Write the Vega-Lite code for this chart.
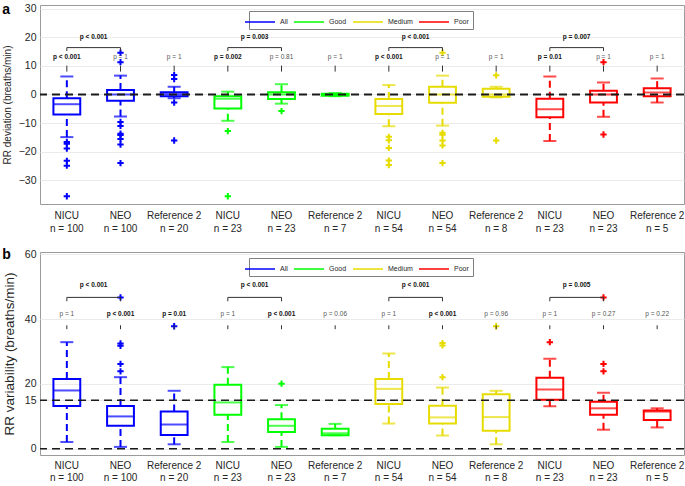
{
"$schema": "https://vega.github.io/schema/vega-lite/v6.json",
"padding": {"left": 1, "top": 2, "right": 0, "bottom": 0},
"spacing": 13,
"background": "white",
"datasets": {
"boxA": [
{"cat":"All|NICU|n = 100","grp":"All","lo":-14.9,"q1":-7.0,"med":-3.4,"q3":-1.3,"hi":6.3},
{"cat":"All|NEO|n = 100","grp":"All","lo":-7.7,"q1":-2.2,"med":0.0,"q3":1.6,"hi":6.6},
{"cat":"All|Reference 2|n = 20","grp":"All","lo":-1.3,"q1":-0.6,"med":0.1,"q3":0.8,"hi":2.7},
{"cat":"Good|NICU|n = 23","grp":"Good","lo":-9.2,"q1":-4.9,"med":-1.5,"q3":-0.6,"hi":1.0},
{"cat":"Good|NEO|n = 23","grp":"Good","lo":-3.2,"q1":-1.6,"med":0.0,"q3":0.8,"hi":3.6},
{"cat":"Good|Reference 2|n = 7","grp":"Good","lo":-0.6,"q1":-0.4,"med":0.0,"q3":0.3,"hi":0.5},
{"cat":"Medium|NICU|n = 54","grp":"Medium","lo":-11.1,"q1":-6.8,"med":-4.0,"q3":-1.6,"hi":3.3},
{"cat":"Medium|NEO|n = 54","grp":"Medium","lo":-10.9,"q1":-2.9,"med":0.0,"q3":2.7,"hi":6.6},
{"cat":"Medium|Reference 2|n = 8","grp":"Medium","lo":-1.0,"q1":-0.8,"med":0.0,"q3":2.0,"hi":2.7},
{"cat":"Poor|NICU|n = 23","grp":"Poor","lo":-16.3,"q1":-8.0,"med":-5.2,"q3":-1.5,"hi":6.3},
{"cat":"Poor|NEO|n = 23","grp":"Poor","lo":-7.8,"q1":-2.8,"med":0.0,"q3":1.3,"hi":4.2},
{"cat":"Poor|Reference 2|n = 5","grp":"Poor","lo":-2.8,"q1":-0.6,"med":0.7,"q3":2.2,"hi":5.6}
],
"outA": [
{"cat":"All|NICU|n = 100","grp":"All","v":-16.6},
{"cat":"All|NICU|n = 100","grp":"All","v":-17.2},
{"cat":"All|NICU|n = 100","grp":"All","v":-18.9},
{"cat":"All|NICU|n = 100","grp":"All","v":-23.2},
{"cat":"All|NICU|n = 100","grp":"All","v":-24.9},
{"cat":"All|NICU|n = 100","grp":"All","v":-35.6},
{"cat":"All|NEO|n = 100","grp":"All","v":11.3},
{"cat":"All|NEO|n = 100","grp":"All","v":14.6},
{"cat":"All|NEO|n = 100","grp":"All","v":-9.6},
{"cat":"All|NEO|n = 100","grp":"All","v":-11.0},
{"cat":"All|NEO|n = 100","grp":"All","v":-13.7},
{"cat":"All|NEO|n = 100","grp":"All","v":-14.2},
{"cat":"All|NEO|n = 100","grp":"All","v":-15.6},
{"cat":"All|NEO|n = 100","grp":"All","v":-17.5},
{"cat":"All|NEO|n = 100","grp":"All","v":-24.0},
{"cat":"All|Reference 2|n = 20","grp":"All","v":6.8},
{"cat":"All|Reference 2|n = 20","grp":"All","v":5.4},
{"cat":"All|Reference 2|n = 20","grp":"All","v":-2.8},
{"cat":"All|Reference 2|n = 20","grp":"All","v":-16.1},
{"cat":"Good|NICU|n = 23","grp":"Good","v":-12.8},
{"cat":"Good|NICU|n = 23","grp":"Good","v":-35.6},
{"cat":"Good|NEO|n = 23","grp":"Good","v":-5.8},
{"cat":"Medium|NICU|n = 54","grp":"Medium","v":-14.8},
{"cat":"Medium|NICU|n = 54","grp":"Medium","v":-16.0},
{"cat":"Medium|NICU|n = 54","grp":"Medium","v":-18.7},
{"cat":"Medium|NICU|n = 54","grp":"Medium","v":-23.1},
{"cat":"Medium|NICU|n = 54","grp":"Medium","v":-24.7},
{"cat":"Medium|NEO|n = 54","grp":"Medium","v":14.6},
{"cat":"Medium|NEO|n = 54","grp":"Medium","v":-13.4},
{"cat":"Medium|NEO|n = 54","grp":"Medium","v":-14.1},
{"cat":"Medium|NEO|n = 54","grp":"Medium","v":-16.1},
{"cat":"Medium|NEO|n = 54","grp":"Medium","v":-17.8},
{"cat":"Medium|NEO|n = 54","grp":"Medium","v":-24.0},
{"cat":"Medium|Reference 2|n = 8","grp":"Medium","v":6.7},
{"cat":"Medium|Reference 2|n = 8","grp":"Medium","v":-16.1},
{"cat":"Poor|NEO|n = 23","grp":"Poor","v":11.3},
{"cat":"Poor|NEO|n = 23","grp":"Poor","v":-14.0}
],
"pA": [
{"cat":"All|NICU|n = 100","p":"p < 0.001","sig":true},
{"cat":"All|NEO|n = 100","p":"p = 1","sig":false},
{"cat":"All|Reference 2|n = 20","p":"p = 1","sig":false},
{"cat":"Good|NICU|n = 23","p":"p = 0.002","sig":true},
{"cat":"Good|NEO|n = 23","p":"p = 0.81","sig":false},
{"cat":"Good|Reference 2|n = 7","p":"p = 1","sig":false},
{"cat":"Medium|NICU|n = 54","p":"p < 0.001","sig":true},
{"cat":"Medium|NEO|n = 54","p":"p = 1","sig":false},
{"cat":"Medium|Reference 2|n = 8","p":"p = 1","sig":false},
{"cat":"Poor|NICU|n = 23","p":"p = 0.01","sig":true},
{"cat":"Poor|NEO|n = 23","p":"p = 1","sig":false},
{"cat":"Poor|Reference 2|n = 5","p":"p = 1","sig":false}
],
"brA": [
{"from":"All|NICU|n = 100","to":"All|NEO|n = 100","p":"p < 0.001"},
{"from":"Good|NICU|n = 23","to":"Good|NEO|n = 23","p":"p = 0.003"},
{"from":"Medium|NICU|n = 54","to":"Medium|NEO|n = 54","p":"p < 0.001"},
{"from":"Poor|NICU|n = 23","to":"Poor|NEO|n = 23","p":"p = 0.007"}
],
"boxB": [
{"cat":"All|NICU|n = 100","grp":"All","lo":2.1,"q1":13.2,"med":18.0,"q3":21.5,"hi":32.9},
{"cat":"All|NEO|n = 100","grp":"All","lo":0.6,"q1":7.1,"med":10.0,"q3":13.2,"hi":22.1},
{"cat":"All|Reference 2|n = 20","grp":"All","lo":1.4,"q1":4.3,"med":7.5,"q3":11.5,"hi":17.9},
{"cat":"Good|NICU|n = 23","grp":"Good","lo":2.1,"q1":10.5,"med":14.3,"q3":19.8,"hi":25.2},
{"cat":"Good|NEO|n = 23","grp":"Good","lo":0.6,"q1":5.2,"med":7.1,"q3":9.1,"hi":13.5},
{"cat":"Good|Reference 2|n = 7","grp":"Good","lo":4.2,"q1":4.2,"med":4.8,"q3":6.2,"hi":7.7},
{"cat":"Medium|NICU|n = 54","grp":"Medium","lo":7.8,"q1":13.8,"med":18.5,"q3":21.5,"hi":29.4},
{"cat":"Medium|NEO|n = 54","grp":"Medium","lo":4.1,"q1":7.8,"med":9.7,"q3":13.3,"hi":18.9},
{"cat":"Medium|Reference 2|n = 8","grp":"Medium","lo":1.4,"q1":5.6,"med":9.8,"q3":16.8,"hi":17.9},
{"cat":"Poor|NICU|n = 23","grp":"Poor","lo":13.1,"q1":15.1,"med":18.3,"q3":21.9,"hi":27.8},
{"cat":"Poor|NEO|n = 23","grp":"Poor","lo":5.9,"q1":10.5,"med":12.5,"q3":14.5,"hi":17.3},
{"cat":"Poor|Reference 2|n = 5","grp":"Poor","lo":6.6,"q1":8.9,"med":11.5,"q3":11.8,"hi":12.5}
],
"outB": [
{"cat":"All|NEO|n = 100","grp":"All","v":46.7},
{"cat":"All|NEO|n = 100","grp":"All","v":32.5},
{"cat":"All|NEO|n = 100","grp":"All","v":31.8},
{"cat":"All|NEO|n = 100","grp":"All","v":26.2},
{"cat":"All|NEO|n = 100","grp":"All","v":23.9},
{"cat":"All|Reference 2|n = 20","grp":"All","v":37.8},
{"cat":"Good|NEO|n = 23","grp":"Good","v":20.1},
{"cat":"Medium|NEO|n = 54","grp":"Medium","v":32.6},
{"cat":"Medium|NEO|n = 54","grp":"Medium","v":31.9},
{"cat":"Medium|NEO|n = 54","grp":"Medium","v":22.1},
{"cat":"Medium|Reference 2|n = 8","grp":"Medium","v":37.8},
{"cat":"Poor|NICU|n = 23","grp":"Poor","v":32.9},
{"cat":"Poor|NEO|n = 23","grp":"Poor","v":46.7},
{"cat":"Poor|NEO|n = 23","grp":"Poor","v":26.2},
{"cat":"Poor|NEO|n = 23","grp":"Poor","v":23.9}
],
"pB": [
{"cat":"All|NICU|n = 100","p":"p = 1","sig":false},
{"cat":"All|NEO|n = 100","p":"p < 0.001","sig":true},
{"cat":"All|Reference 2|n = 20","p":"p = 0.01","sig":true},
{"cat":"Good|NICU|n = 23","p":"p = 1","sig":false},
{"cat":"Good|NEO|n = 23","p":"p < 0.001","sig":true},
{"cat":"Good|Reference 2|n = 7","p":"p = 0.06","sig":false},
{"cat":"Medium|NICU|n = 54","p":"p = 1","sig":false},
{"cat":"Medium|NEO|n = 54","p":"p < 0.001","sig":true},
{"cat":"Medium|Reference 2|n = 8","p":"p = 0.96","sig":false},
{"cat":"Poor|NICU|n = 23","p":"p = 1","sig":false},
{"cat":"Poor|NEO|n = 23","p":"p = 0.27","sig":false},
{"cat":"Poor|Reference 2|n = 5","p":"p = 0.22","sig":false}
],
"brB": [
{"from":"All|NICU|n = 100","to":"All|NEO|n = 100","p":"p < 0.001"},
{"from":"Good|NICU|n = 23","to":"Good|NEO|n = 23","p":"p < 0.001"},
{"from":"Medium|NICU|n = 54","to":"Medium|NEO|n = 54","p":"p < 0.001"},
{"from":"Poor|NICU|n = 23","to":"Poor|NEO|n = 23","p":"p = 0.005"}
]
},
"vconcat": [
{
"title": {"text": "a"},
"width": 644, "height": 199,
"layer": [
{
"data": {"name": "boxA"},
"encoding": {
"x": {"field":"cat","type":"nominal","scale":{"domain":["All|NICU|n = 100","All|NEO|n = 100","All|Reference 2|n = 20","Good|NICU|n = 23","Good|NEO|n = 23","Good|Reference 2|n = 7","Medium|NICU|n = 54","Medium|NEO|n = 54","Medium|Reference 2|n = 8","Poor|NICU|n = 23","Poor|NEO|n = 23","Poor|Reference 2|n = 5"],"paddingInner":0,"paddingOuter":0},"axis":{"title":null,"labelExpr":"slice(split(datum.value,'|'),1)","labelAngle":0,"labelPadding":6,"labelLineHeight":13,"grid":false,"ticks":false,"domain":false,"labelFontSize":10}},
"color": {"field":"grp","type":"nominal","title":null,"scale":{"domain":["All","Good","Medium","Poor"],"range":["#0000ff","#00ff00","#e6dc00","#ff0000"]},"legend":{"orient":"none","legendX":209,"legendY":6,"direction":"horizontal","symbolType":"M-2.5,0L2.5,0","symbolSize":144,"symbolStrokeWidth":1.5,"labelFontSize":7,"labelFont":"Liberation Sans","padding":4,"strokeColor":"#7f7f7f","fillColor":"#ffffff","columnPadding":3,"labelOffset":13,"labelColor":"#262626"}}
},
"layer": [
{"mark":{"type":"bar","filled":false,"strokeWidth":2,"width":{"band":0.5}},"encoding":{"y":{"field":"q1","type":"quantitative","scale":{"domain":[-38.3,31.3],"nice":false,"zero":false},"axis":{"title":"RR deviation (breaths/min)","values":[-30,-20,-10,0,10,20,30],"tickCount":20,"labelOverlap":false,"labelBound":false,"grid":true,"gridColor":"#ebebeb","labelFontSize":10.5,"titleFontSize":10,"titlePadding":6,"labelPadding":4,"ticks":false,"domain":false}},"y2":{"field":"q3"}}},
{"mark":{"type":"rule","strokeDash":[7,4],"strokeWidth":2},"encoding":{"y":{"field":"q3","type":"quantitative"},"y2":{"field":"hi"}}},
{"mark":{"type":"rule","strokeDash":[7,4],"strokeWidth":2},"encoding":{"y":{"field":"lo","type":"quantitative"},"y2":{"field":"q1"}}},
{"mark":{"type":"tick","thickness":2,"size":27},"encoding":{"y":{"field":"med","type":"quantitative"}}},
{"mark":{"type":"tick","thickness":2,"size":13},"encoding":{"y":{"field":"hi","type":"quantitative"}}},
{"mark":{"type":"tick","thickness":2,"size":13},"encoding":{"y":{"field":"lo","type":"quantitative"}}}
]
},
{"data":{"name":"outA"},"mark":{"type":"point","shape":"M-1,0L1,0M0,-1L0,1","filled":false,"size":40,"strokeWidth":2,"opacity":1},"encoding":{"x":{"field":"cat","type":"nominal","scale":{"domain":["All|NICU|n = 100","All|NEO|n = 100","All|Reference 2|n = 20","Good|NICU|n = 23","Good|NEO|n = 23","Good|Reference 2|n = 7","Medium|NICU|n = 54","Medium|NEO|n = 54","Medium|Reference 2|n = 8","Poor|NICU|n = 23","Poor|NEO|n = 23","Poor|Reference 2|n = 5"],"paddingInner":0,"paddingOuter":0}},"y":{"field":"v","type":"quantitative"},"color":{"field":"grp","type":"nominal","title":null,"scale":{"domain":["All","Good","Medium","Poor"],"range":["#0000ff","#00ff00","#e6dc00","#ff0000"]}}}},
{"data":{"values":[{"ref":0}]},"mark":{"type":"rule","strokeDash":[8,5],"strokeWidth":2,"color":"#1a1a1a"},"encoding":{"y":{"field":"ref","type":"quantitative"}}},
{"data":{"name":"pA"},"transform":[{"filter":"datum.sig"}],"mark":{"type":"text","fontSize":6.5,"fontWeight":"bold","color":"#111111"},"encoding":{"x":{"field":"cat","type":"nominal","scale":{"domain":["All|NICU|n = 100","All|NEO|n = 100","All|Reference 2|n = 20","Good|NICU|n = 23","Good|NEO|n = 23","Good|Reference 2|n = 7","Medium|NICU|n = 54","Medium|NEO|n = 54","Medium|Reference 2|n = 8","Poor|NICU|n = 23","Poor|NEO|n = 23","Poor|Reference 2|n = 5"],"paddingInner":0,"paddingOuter":0}},"y":{"datum":12.95},"text":{"field":"p"}}},
{"data":{"name":"pA"},"transform":[{"filter":"!datum.sig"}],"mark":{"type":"text","fontSize":6.5,"color":"#555555"},"encoding":{"x":{"field":"cat","type":"nominal","scale":{"domain":["All|NICU|n = 100","All|NEO|n = 100","All|Reference 2|n = 20","Good|NICU|n = 23","Good|NEO|n = 23","Good|Reference 2|n = 7","Medium|NICU|n = 54","Medium|NEO|n = 54","Medium|Reference 2|n = 8","Poor|NICU|n = 23","Poor|NEO|n = 23","Poor|Reference 2|n = 5"],"paddingInner":0,"paddingOuter":0}},"y":{"datum":12.95},"text":{"field":"p"}}},
{"data":{"name":"pA"},"mark":{"type":"rule","color":"#333333","strokeWidth":1},"encoding":{"x":{"field":"cat","type":"nominal","scale":{"domain":["All|NICU|n = 100","All|NEO|n = 100","All|Reference 2|n = 20","Good|NICU|n = 23","Good|NEO|n = 23","Good|Reference 2|n = 7","Medium|NICU|n = 54","Medium|NEO|n = 54","Medium|Reference 2|n = 8","Poor|NICU|n = 23","Poor|NEO|n = 23","Poor|Reference 2|n = 5"],"paddingInner":0,"paddingOuter":0}},"y":{"datum":10.1},"y2":{"datum":8.0}}},
{"data":{"name":"brA"},"mark":{"type":"rule","color":"#333333","strokeWidth":1},"encoding":{"x":{"field":"from","type":"nominal","bandPosition":0.5,"scale":{"domain":["All|NICU|n = 100","All|NEO|n = 100","All|Reference 2|n = 20","Good|NICU|n = 23","Good|NEO|n = 23","Good|Reference 2|n = 7","Medium|NICU|n = 54","Medium|NEO|n = 54","Medium|Reference 2|n = 8","Poor|NICU|n = 23","Poor|NEO|n = 23","Poor|Reference 2|n = 5"],"paddingInner":0,"paddingOuter":0}},"x2":{"field":"to","bandPosition":0.5},"y":{"datum":16.4}}},
{"data":{"name":"brA"},"transform":[{"fold":["from","to"],"as":["side","c"]}],"mark":{"type":"rule","color":"#333333","strokeWidth":1},"encoding":{"x":{"field":"c","type":"nominal","scale":{"domain":["All|NICU|n = 100","All|NEO|n = 100","All|Reference 2|n = 20","Good|NICU|n = 23","Good|NEO|n = 23","Good|Reference 2|n = 7","Medium|NICU|n = 54","Medium|NEO|n = 54","Medium|Reference 2|n = 8","Poor|NICU|n = 23","Poor|NEO|n = 23","Poor|Reference 2|n = 5"],"paddingInner":0,"paddingOuter":0}},"y":{"datum":16.4},"y2":{"datum":15.2}}},
{"data":{"name":"brA"},"mark":{"type":"text","fontSize":6.5,"fontWeight":"bold","color":"#111111"},"encoding":{"x":{"field":"to","type":"nominal","bandPosition":0,"scale":{"domain":["All|NICU|n = 100","All|NEO|n = 100","All|Reference 2|n = 20","Good|NICU|n = 23","Good|NEO|n = 23","Good|Reference 2|n = 7","Medium|NICU|n = 54","Medium|NEO|n = 54","Medium|Reference 2|n = 8","Poor|NICU|n = 23","Poor|NEO|n = 23","Poor|Reference 2|n = 5"],"paddingInner":0,"paddingOuter":0}},"y":{"datum":20.2},"text":{"field":"p"}}}
]
},
{
"title": {"text": "b"},
"width": 644, "height": 203,
"layer": [
{
"data": {"name": "boxB"},
"encoding": {
"x": {"field":"cat","type":"nominal","scale":{"domain":["All|NICU|n = 100","All|NEO|n = 100","All|Reference 2|n = 20","Good|NICU|n = 23","Good|NEO|n = 23","Good|Reference 2|n = 7","Medium|NICU|n = 54","Medium|NEO|n = 54","Medium|Reference 2|n = 8","Poor|NICU|n = 23","Poor|NEO|n = 23","Poor|Reference 2|n = 5"],"paddingInner":0,"paddingOuter":0},"axis":{"title":null,"labelExpr":"slice(split(datum.value,'|'),1)","labelAngle":0,"labelPadding":5,"labelLineHeight":12,"grid":false,"ticks":false,"domain":false,"labelFontSize":10}},
"color": {"field":"grp","type":"nominal","title":null,"scale":{"domain":["All","Good","Medium","Poor"],"range":["#0000ff","#00ff00","#e6dc00","#ff0000"]},"legend":{"orient":"none","legendX":209,"legendY":6,"direction":"horizontal","symbolType":"M-2.5,0L2.5,0","symbolSize":144,"symbolStrokeWidth":1.5,"labelFontSize":7,"labelFont":"Liberation Sans","padding":4,"strokeColor":"#7f7f7f","fillColor":"#ffffff","columnPadding":3,"labelOffset":13,"labelColor":"#262626"}}
},
"layer": [
{"mark":{"type":"bar","filled":false,"strokeWidth":2,"width":{"band":0.5}},"encoding":{"y":{"field":"q1","type":"quantitative","scale":{"domain":[-1.9,60.7],"nice":false,"zero":false},"axis":{"title":"RR variability (breaths/min)","values":[0,15,20,40,60],"tickCount":20,"labelOverlap":false,"labelBound":false,"grid":true,"gridColor":"#ebebeb","labelFontSize":10.5,"titleFontSize":13.5,"titlePadding":8,"labelPadding":4,"ticks":false,"domain":false}},"y2":{"field":"q3"}}},
{"mark":{"type":"rule","strokeDash":[7,4],"strokeWidth":2},"encoding":{"y":{"field":"q3","type":"quantitative"},"y2":{"field":"hi"}}},
{"mark":{"type":"rule","strokeDash":[7,4],"strokeWidth":2},"encoding":{"y":{"field":"lo","type":"quantitative"},"y2":{"field":"q1"}}},
{"mark":{"type":"tick","thickness":2,"size":27},"encoding":{"y":{"field":"med","type":"quantitative"}}},
{"mark":{"type":"tick","thickness":2,"size":13},"encoding":{"y":{"field":"hi","type":"quantitative"}}},
{"mark":{"type":"tick","thickness":2,"size":13},"encoding":{"y":{"field":"lo","type":"quantitative"}}}
]
},
{"data":{"name":"outB"},"mark":{"type":"point","shape":"M-1,0L1,0M0,-1L0,1","filled":false,"size":40,"strokeWidth":2,"opacity":1},"encoding":{"x":{"field":"cat","type":"nominal","scale":{"domain":["All|NICU|n = 100","All|NEO|n = 100","All|Reference 2|n = 20","Good|NICU|n = 23","Good|NEO|n = 23","Good|Reference 2|n = 7","Medium|NICU|n = 54","Medium|NEO|n = 54","Medium|Reference 2|n = 8","Poor|NICU|n = 23","Poor|NEO|n = 23","Poor|Reference 2|n = 5"],"paddingInner":0,"paddingOuter":0}},"y":{"field":"v","type":"quantitative"},"color":{"field":"grp","type":"nominal","title":null,"scale":{"domain":["All","Good","Medium","Poor"],"range":["#0000ff","#00ff00","#e6dc00","#ff0000"]}}}},
{"data":{"values":[{"ref":0},{"ref":15}]},"mark":{"type":"rule","strokeDash":[8,5],"strokeWidth":1.5,"color":"#1a1a1a"},"encoding":{"y":{"field":"ref","type":"quantitative"}}},
{"data":{"name":"pB"},"transform":[{"filter":"datum.sig"}],"mark":{"type":"text","fontSize":6.5,"fontWeight":"bold","color":"#111111"},"encoding":{"x":{"field":"cat","type":"nominal","scale":{"domain":["All|NICU|n = 100","All|NEO|n = 100","All|Reference 2|n = 20","Good|NICU|n = 23","Good|NEO|n = 23","Good|Reference 2|n = 7","Medium|NICU|n = 54","Medium|NEO|n = 54","Medium|Reference 2|n = 8","Poor|NICU|n = 23","Poor|NEO|n = 23","Poor|Reference 2|n = 5"],"paddingInner":0,"paddingOuter":0}},"y":{"datum":41.5},"text":{"field":"p"}}},
{"data":{"name":"pB"},"transform":[{"filter":"!datum.sig"}],"mark":{"type":"text","fontSize":6.5,"color":"#555555"},"encoding":{"x":{"field":"cat","type":"nominal","scale":{"domain":["All|NICU|n = 100","All|NEO|n = 100","All|Reference 2|n = 20","Good|NICU|n = 23","Good|NEO|n = 23","Good|Reference 2|n = 7","Medium|NICU|n = 54","Medium|NEO|n = 54","Medium|Reference 2|n = 8","Poor|NICU|n = 23","Poor|NEO|n = 23","Poor|Reference 2|n = 5"],"paddingInner":0,"paddingOuter":0}},"y":{"datum":41.5},"text":{"field":"p"}}},
{"data":{"name":"pB"},"mark":{"type":"rule","color":"#333333","strokeWidth":1},"encoding":{"x":{"field":"cat","type":"nominal","scale":{"domain":["All|NICU|n = 100","All|NEO|n = 100","All|Reference 2|n = 20","Good|NICU|n = 23","Good|NEO|n = 23","Good|Reference 2|n = 7","Medium|NICU|n = 54","Medium|NEO|n = 54","Medium|Reference 2|n = 8","Poor|NICU|n = 23","Poor|NEO|n = 23","Poor|Reference 2|n = 5"],"paddingInner":0,"paddingOuter":0}},"y":{"datum":38.1},"y2":{"datum":36.9}}},
{"data":{"name":"brB"},"mark":{"type":"rule","color":"#333333","strokeWidth":1},"encoding":{"x":{"field":"from","type":"nominal","bandPosition":0.5,"scale":{"domain":["All|NICU|n = 100","All|NEO|n = 100","All|Reference 2|n = 20","Good|NICU|n = 23","Good|NEO|n = 23","Good|Reference 2|n = 7","Medium|NICU|n = 54","Medium|NEO|n = 54","Medium|Reference 2|n = 8","Poor|NICU|n = 23","Poor|NEO|n = 23","Poor|Reference 2|n = 5"],"paddingInner":0,"paddingOuter":0}},"x2":{"field":"to","bandPosition":0.5},"y":{"datum":46.7}}},
{"data":{"name":"brB"},"transform":[{"fold":["from","to"],"as":["side","c"]}],"mark":{"type":"rule","color":"#333333","strokeWidth":1},"encoding":{"x":{"field":"c","type":"nominal","scale":{"domain":["All|NICU|n = 100","All|NEO|n = 100","All|Reference 2|n = 20","Good|NICU|n = 23","Good|NEO|n = 23","Good|Reference 2|n = 7","Medium|NICU|n = 54","Medium|NEO|n = 54","Medium|Reference 2|n = 8","Poor|NICU|n = 23","Poor|NEO|n = 23","Poor|Reference 2|n = 5"],"paddingInner":0,"paddingOuter":0}},"y":{"datum":46.7},"y2":{"datum":45.5}}},
{"data":{"name":"brB"},"mark":{"type":"text","fontSize":6.5,"fontWeight":"bold","color":"#111111"},"encoding":{"x":{"field":"to","type":"nominal","bandPosition":0,"scale":{"domain":["All|NICU|n = 100","All|NEO|n = 100","All|Reference 2|n = 20","Good|NICU|n = 23","Good|NEO|n = 23","Good|Reference 2|n = 7","Medium|NICU|n = 54","Medium|NEO|n = 54","Medium|Reference 2|n = 8","Poor|NICU|n = 23","Poor|NEO|n = 23","Poor|Reference 2|n = 5"],"paddingInner":0,"paddingOuter":0}},"y":{"datum":50.4},"text":{"field":"p"}}}
]
}
],
"resolve": {"scale": {"y": "independent", "color": "independent"}, "legend": {"color": "independent"}},
"config": {
"font": "Liberation Sans",
"view": {"stroke": "#9a9a9a", "strokeWidth": 1},
"axis": {"labelColor": "#262626", "titleColor": "#262626", "titleFontWeight": "normal", "labelFont": "Liberation Sans", "titleFont": "Liberation Sans"},
"title": {"anchor": "start", "frame": "bounds", "fontSize": 14, "fontWeight": "bold", "color": "#000000", "offset": -13}
}
}
